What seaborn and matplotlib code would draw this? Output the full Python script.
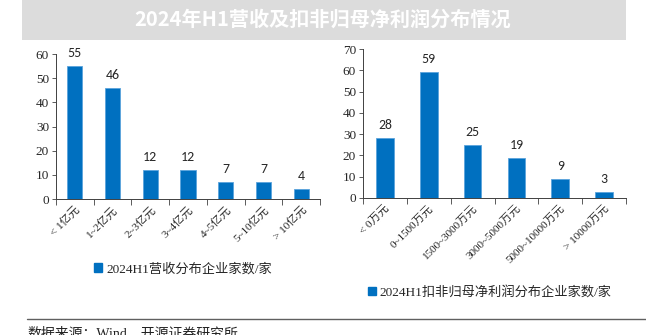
import matplotlib
matplotlib.use("Agg")
import matplotlib.pyplot as plt
import seaborn as sns
from matplotlib.patches import Patch, Rectangle
from matplotlib.lines import Line2D

rev_cats = ["< 1亿元", "1~2亿元", "2~3亿元", "3~4亿元", "4~5亿元", "5~10亿元", "> 10亿元"]
rev_vals = [55, 46, 12, 12, 7, 7, 4]
np_cats = ["< 0万元", "0~1500万元", "1500~3000万元", "3000~5000万元", "5000~10000万元", "> 10000万元"]
np_vals = [28, 59, 25, 19, 9, 3]
rev_label = "2024H1营收分布企业家数/家"
np_label = "2024H1扣非归母净利润分布企业家数/家"
title = "2024年H1营收及扣非归母净利润分布情况"
source = "数据来源：Wind，开源证券研究所"

sns.set_theme(style="white")
FAM = ["Liberation Serif", "Noto Sans CJK SC", "DejaVu Sans"]
plt.rcParams["font.family"] = FAM
BLUE = "#0070C0"

W, H = 646, 335
fig = plt.figure(figsize=(W / 100, H / 100), dpi=100)

def px(x0, y0, x1, y1):
    return [x0 / W, 1 - y1 / H, (x1 - x0) / W, (y1 - y0) / H]

# title bar
fig.patches.append(Rectangle((22 / W, 1 - 40 / H), (626 - 22) / W, 40 / H,
                             transform=fig.transFigure, facecolor="#DCDCDC",
                             edgecolor="none", zorder=0))
fig.text(323 / W, 1 - 19 / H, title, ha="center", va="center", color="white",
         fontsize=14.5, fontweight="bold", family=["Noto Sans CJK SC"])

def draw(ax, cats, vals, ymax):
    sns.barplot(x=cats, y=vals, color=BLUE, width=0.4, ax=ax,
                edgecolor="#5BA3DC", linewidth=0.6, saturation=1)
    ax.set_ylim(0, ymax)
    ax.set_xlim(-0.5, len(cats) - 0.5)
    ax.set_yticks(range(0, ymax + 1, 10))
    ax.tick_params(axis="y", labelsize=9.5, length=3, width=0.6, direction="out",
                   left=True, color="#404040", pad=2)
    ax.set_xticks(range(len(cats)))
    ax.set_xticks([i + 0.5 for i in range(-1, len(cats))], minor=True)
    ax.tick_params(axis="x", which="major", length=0, pad=4)
    ax.tick_params(axis="x", which="minor", length=4, width=0.6, bottom=True,
                   direction="out", color="#404040")
    ax.set_xticklabels(cats, rotation=45, ha="right", rotation_mode="anchor",
                       fontsize=8)
    for sp in ["top", "right"]:
        ax.spines[sp].set_visible(False)
    for sp in ["left", "bottom"]:
        ax.spines[sp].set_color("#404040")
        ax.spines[sp].set_linewidth(0.7)
    for c in ax.containers:
        ax.bar_label(c, padding=5, fontsize=10, family=["Carlito", "DejaVu Sans"])
    ax.set_xlabel("")
    ax.set_ylabel("")

ax1 = fig.add_axes(px(56, 54, 320, 199))
draw(ax1, rev_cats, rev_vals, 60)
ax2 = fig.add_axes(px(363, 49, 626, 198))
draw(ax2, np_cats, np_vals, 70)

fig.legend(handles=[Patch(facecolor=BLUE, edgecolor=BLUE)], labels=[rev_label],
           loc="center", bbox_to_anchor=(183 / W, 1 - 269 / H), frameon=False,
           fontsize=9.5, handlelength=0.6, handleheight=0.6, handletextpad=0.3)
fig.legend(handles=[Patch(facecolor=BLUE, edgecolor=BLUE)], labels=[np_label],
           loc="center", bbox_to_anchor=(490 / W, 1 - 292 / H), frameon=False,
           fontsize=9.5, handlelength=0.6, handleheight=0.6, handletextpad=0.3)

fig.add_artist(Line2D([27 / W, 1], [1 - 319 / H, 1 - 319 / H],
                      transform=fig.transFigure, color="#606060", linewidth=1))
fig.text(27 / W, 1 - 333 / H, source, ha="left", va="center", fontsize=10,
         color="#222222")

fig.savefig("out.png", dpi=100)
